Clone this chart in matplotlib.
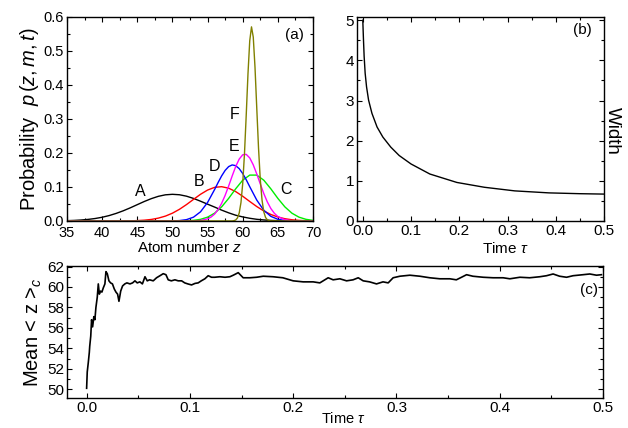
import matplotlib
matplotlib.use("Agg")
import matplotlib.pyplot as plt
from matplotlib.ticker import MultipleLocator

plt.rcParams["font.family"] = ["Liberation Sans", "DejaVu Sans"]
plt.rcParams["mathtext.fontset"] = "custom"
plt.rcParams["mathtext.rm"] = "Liberation Sans"
plt.rcParams["mathtext.it"] = "Liberation Sans:italic"

# ---- panel (a): probability distributions p(z,m,t) ----
zA = list(range(35, 71))
pA = [0.0010, 0.0017, 0.0029, 0.0047, 0.0073, 0.0110, 0.0160, 0.0224, 0.0300, 0.0387,
      0.0481, 0.0574, 0.0658, 0.0726, 0.0770, 0.0785, 0.0772, 0.0730, 0.0664, 0.0582,
      0.0495, 0.0410, 0.0320, 0.0240, 0.0170, 0.0120, 0.0080, 0.0050, 0.0031, 0.0018,
      0.0010, 0.0006, 0.0003, 0.0001, 0.0001, 0.0000]

zB = [35] + list(range(42, 71))
pB = [0.0, 0.0001, 0.0002, 0.0005, 0.0012, 0.0024, 0.0046, 0.0085, 0.0144, 0.0230,
      0.0344, 0.0483, 0.0636, 0.0786, 0.0910, 0.0990, 0.1009, 0.0965, 0.0865, 0.0728,
      0.0574, 0.0425, 0.0295, 0.0192, 0.0117, 0.0067, 0.0036, 0.0018, 0.0009, 0.0004]

zC = [35] + list(range(50, 71))
pC = [0.0, 0.0001, 0.0002, 0.0007, 0.0019, 0.0049, 0.0113, 0.0230, 0.0415, 0.0665, 0.0947,
      0.1200, 0.1350, 0.1350, 0.1200, 0.0947, 0.0665, 0.0415, 0.0230, 0.0113, 0.0049, 0.0019]

zD = [35, 50, 51, 52, 53, 54, 55, 56, 56.5, 57, 57.5, 58, 58.5, 59, 59.5, 60, 60.5,
      61, 62, 63, 64, 65, 66, 67, 68, 70]
pD = [0.0, 0.0003, 0.0012, 0.0040, 0.0113, 0.0271, 0.0545, 0.0926, 0.1132, 0.1326, 0.1488,
      0.1600, 0.1649, 0.1628, 0.1540, 0.1396, 0.1212, 0.1009, 0.0615, 0.0316, 0.0137,
      0.0050, 0.0015, 0.0004, 0.0001, 0.0]

zE = [35, 53, 54, 55, 55.5, 56, 56.5, 57, 57.5, 58, 58.5, 59, 59.5, 60, 60.5, 61, 61.5,
      62, 62.5, 63, 63.5, 64, 64.5, 65, 66, 67, 68, 70]
pE = [0.0, 0.0003, 0.0015, 0.0063, 0.0117, 0.0204, 0.0336, 0.0519, 0.0754, 0.1030, 0.1324,
      0.1601, 0.1821, 0.1948, 0.1960, 0.1855, 0.1651, 0.1383, 0.1089, 0.0806, 0.0562,
      0.0368, 0.0227, 0.0131, 0.0037, 0.0008, 0.0001, 0.0]

zF = [35, 58.5, 58.75, 59.0, 59.25, 59.5, 59.75, 60.0, 60.25, 60.5, 60.75, 61.0, 61.25,
      61.5, 61.75, 62.0, 62.25, 62.5, 62.75, 63.0, 63.25, 63.5, 63.75, 64.0, 70]
pF = [0.0, 0.0002, 0.0009, 0.0030, 0.0089, 0.0234, 0.0541, 0.1101, 0.1975, 0.3118, 0.4333,
      0.5301, 0.5710, 0.5410, 0.4514, 0.3315, 0.2143, 0.1220, 0.0611, 0.0269, 0.0104,
      0.0036, 0.0011, 0.0003, 0.0]

curve_names = ["A", "B", "C", "D", "E", "F"]
curve_colors = ["black", "#ff0000", "#00ee00", "#0000ff", "#ff00ff", "#808000"]
label_pos = [(45.4, 0.086), (53.8, 0.116), (66.1, 0.093), (56.0, 0.160), (58.7, 0.219), (58.9, 0.312)]

# ---- panel (b): width vs time ----
tau_w = [0.0, 0.0014, 0.0028, 0.0049, 0.0078, 0.012, 0.019, 0.0296, 0.0416, 0.058,
         0.0755, 0.100, 0.139, 0.195, 0.252, 0.315, 0.386, 0.45, 0.5]
width = [5.0, 4.52, 4.10, 3.68, 3.34, 3.01, 2.68, 2.34, 2.09, 1.84,
         1.63, 1.42, 1.17, 0.96, 0.84, 0.75, 0.70, 0.68, 0.67]

# ---- panel (c): mean <z>_c vs time ----
tau_m = [0.0, 0.0006, 0.0016, 0.0026, 0.003, 0.004, 0.0048, 0.0058, 0.007, 0.008, 0.009,
         0.0103, 0.0113, 0.0123, 0.0135, 0.0148, 0.0161, 0.0177, 0.0187, 0.020, 0.0216,
         0.0232, 0.025, 0.0268, 0.0284, 0.030, 0.0313, 0.033, 0.0348, 0.037, 0.039, 0.042,
         0.0445, 0.0468, 0.049, 0.0516, 0.054, 0.0565, 0.0587, 0.061, 0.0645, 0.0677, 0.071,
         0.0742, 0.0768, 0.079, 0.082, 0.0855, 0.0887, 0.092, 0.095, 0.098, 0.1016, 0.105,
         0.108, 0.111, 0.1145, 0.1177, 0.121, 0.124, 0.129, 0.134, 0.1387, 0.142, 0.1468,
         0.1516, 0.158, 0.1646, 0.171, 0.1806, 0.190, 0.200, 0.2097, 0.2194, 0.2258, 0.2339,
         0.2387, 0.2452, 0.2517, 0.258, 0.263, 0.2678, 0.274, 0.2807, 0.287, 0.292, 0.2968,
         0.3033, 0.313, 0.3227, 0.3323, 0.342, 0.3517, 0.358, 0.363, 0.3679, 0.374, 0.384,
         0.3936, 0.4033, 0.4098, 0.4195, 0.429, 0.4388, 0.4453, 0.4517, 0.458, 0.4647, 0.471,
         0.4807, 0.4872, 0.4937, 0.4985]
mean_z = [50.1, 51.7, 52.6, 53.6, 54.2, 55.2, 56.8, 56.1, 57.1, 56.8, 58.0,
          59.0, 60.3, 59.3, 59.6, 59.5, 59.9, 60.3, 61.5, 61.3, 60.6,
          60.4, 60.3, 59.8, 59.5, 59.3, 58.6, 59.6, 60.1, 60.3, 60.4, 60.3,
          60.4, 60.6, 60.4, 60.5, 60.3, 61.0, 60.6, 60.7, 60.6, 60.9, 61.1,
          61.3, 61.2, 60.7, 60.6, 60.7, 60.6, 60.6, 60.4, 60.3, 60.2, 60.35,
          60.4, 60.6, 60.8, 61.1, 60.95, 60.95, 61.0, 60.95, 61.0, 61.15, 61.4,
          60.9, 60.9, 60.95, 61.05, 61.0, 60.9, 60.6, 60.5, 60.5, 60.4, 60.9,
          60.7, 60.8, 60.6, 60.7, 60.9, 60.6, 60.5, 60.3, 60.5, 60.4, 60.9,
          61.05, 61.15, 61.05, 60.9, 60.8, 60.8, 60.7, 60.95, 61.2, 61.05, 60.95,
          60.9, 60.9, 60.8, 60.95, 60.9, 61.0, 61.1, 61.27, 61.05, 60.95, 61.1,
          61.2, 61.27, 61.15, 61.2]

W, H = 628, 428
fig = plt.figure(figsize=(W / 100, H / 100), dpi=100)


def px_axes(left, top, right, bottom):
    return fig.add_axes([left / W, 1 - bottom / H, (right - left) / W, (bottom - top) / H])


def style(ax, size):
    ax.tick_params(which="both", direction="in", top=True, right=True, labelsize=size,
                   width=0.8, pad=2)
    ax.tick_params(which="major", length=3.5)
    ax.tick_params(which="minor", length=2)
    for s in ax.spines.values():
        s.set_linewidth(1.0)


ax_a = px_axes(67, 17, 313, 221)
ax_b = px_axes(357, 17, 604, 221)
ax_c = px_axes(67, 266, 603, 398)

# (a)
zs = [zA, zB, zC, zD, zE, zF]
ps = [pA, pB, pC, pD, pE, pF]
for z, p, c in zip(zs, ps, curve_colors):
    ax_a.plot(z, p, color=c, lw=1.0)
for name, (x, y) in zip(curve_names, label_pos):
    ax_a.text(x, y, name, fontsize=11.5, ha="center", va="center")
ax_a.text(67.4, 0.547, "(a)", fontsize=11, ha="center", va="center")
ax_a.set_xlim(35, 70)
ax_a.set_ylim(0, 0.6)
ax_a.xaxis.set_major_locator(MultipleLocator(5))
ax_a.xaxis.set_minor_locator(MultipleLocator(2.5))
ax_a.yaxis.set_major_locator(MultipleLocator(0.1))
ax_a.yaxis.set_minor_locator(MultipleLocator(0.05))
ax_a.set_yticklabels([f"{v:.1f}" for v in ax_a.get_yticks()])
style(ax_a, 10.5)
ax_a.tick_params(axis="x", pad=3.5)
ax_a.set_xlabel(r"Atom number $z$", fontsize=11, labelpad=0)
ax_a.set_ylabel(r"Probability  $p\,(z,m,t)$", fontsize=14.5, labelpad=2)

# (b)
ax_b.plot(tau_w, width, color="black", lw=1.0)
ax_b.text(0.455, 4.75, "(b)", fontsize=11, ha="center", va="center")
ax_b.set_xlim(-0.012, 0.5)
ax_b.set_ylim(0, 5.08)
ax_b.xaxis.set_major_locator(MultipleLocator(0.1))
ax_b.xaxis.set_minor_locator(MultipleLocator(0.05))
ax_b.yaxis.set_major_locator(MultipleLocator(1))
ax_b.yaxis.set_minor_locator(MultipleLocator(0.5))
style(ax_b, 11)
ax_b.set_xlabel(r"Time $\tau$", fontsize=11)
ax_b.xaxis.set_label_coords(0.6, -0.1)
ax_b.yaxis.set_label_position("right")
ax_b.set_ylabel("Width", fontsize=13.5, rotation=270)
ax_b.yaxis.set_label_coords(1.07, 0.44)

# (c)
ax_c.plot(tau_m, mean_z, color="black", lw=1.2)
ax_c.text(0.486, 59.7, "(c)", fontsize=11, ha="center", va="center")
ax_c.set_xlim(-0.019, 0.5)
ax_c.set_ylim(49.15, 62.05)
ax_c.xaxis.set_major_locator(MultipleLocator(0.1))
ax_c.xaxis.set_minor_locator(MultipleLocator(0.05))
ax_c.yaxis.set_major_locator(MultipleLocator(2))
ax_c.yaxis.set_minor_locator(MultipleLocator(1))
style(ax_c, 11)
ax_c.set_xlabel(r"Time $\tau$", fontsize=10.5)
ax_c.xaxis.set_label_coords(0.515, -0.1)
ax_c.xaxis.label.set_va("top")
ax_c.set_ylabel(r"Mean < z >$_c$", fontsize=14.5, labelpad=2)

fig.savefig("out.png", dpi=100)
